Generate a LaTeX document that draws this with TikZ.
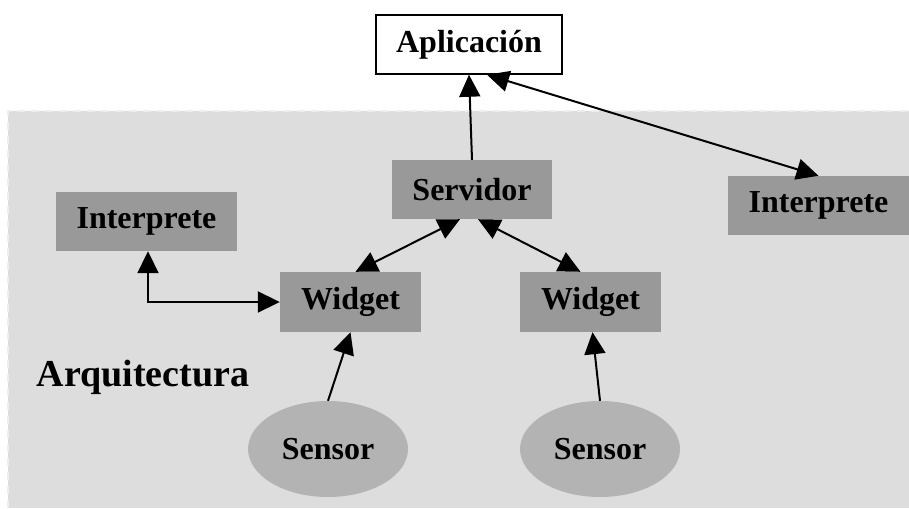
\documentclass[tikz,border=0pt]{standalone}
\usepackage{fontspec}
\setmainfont{Liberation Serif}
\usetikzlibrary{arrows.meta,shapes.geometric}
\definecolor{areabg}{HTML}{DDDDDD}
\definecolor{areaedge}{HTML}{EEEEEE}
\definecolor{boxfill}{HTML}{999999}
\definecolor{sensfill}{HTML}{B3B3B3}
\tikzset{
  lbl/.style={font=\fontsize{32}{38}\selectfont\bfseries, text=black},
  compbox/.style={lbl, rectangle, fill=boxfill, inner sep=0pt},
  appbox/.style={lbl, rectangle, fill=white, draw=black, line width=1.5pt, inner sep=0pt},
  sensbox/.style={lbl, ellipse, fill=sensfill, inner sep=0pt},
  link/.style={line width=2pt, draw=black},
  tip/.style={-{Triangle[length=22pt,width=21pt]}},
  tips/.style={{Triangle[length=22pt,width=21pt]}-{Triangle[length=22pt,width=21pt]}}
}
\begin{document}
\begin{tikzpicture}[x=1pt,y=-1pt]
  \useasboundingbox (0,0) rectangle (909,508);
  % architecture area
  \fill[areabg] (8,111) rectangle (909,508);
  \draw[areaedge, line width=1.5pt, dash pattern=on 8pt off 6pt] (8,508) -- (8,111) -- (909,111);

  % components
  \node[appbox, minimum width=186pt, minimum height=59pt] (app) at (469,44.5) {Aplicación};
  \node[compbox, minimum width=160pt, minimum height=59pt] (serv) at (472,189.5) {Servidor};
  \node[compbox, minimum width=181pt, minimum height=59pt] (intL) at (146.5,221.5) {Interprete};
  \node[compbox, minimum width=181pt, minimum height=59pt] (intR) at (818.5,205.5) {Interprete};
  \node[compbox, minimum width=141pt, minimum height=60pt] (wL) at (350.5,302) {Widget};
  \node[compbox, minimum width=141pt, minimum height=60pt] (wR) at (590.5,302) {Widget};
  \node[sensbox, minimum width=160pt, minimum height=96pt] (sL) at (328,449) {Sensor};
  \node[sensbox, minimum width=160pt, minimum height=96pt] (sR) at (600,449) {Sensor};
  \node[font=\fontsize{38}{44}\selectfont\bfseries] (arq) at (143,377) {Arquitectura};

  % connectors
  \draw[link, tip] (serv.north) -- (app.south);
  \draw[link, tips] ([xshift=18pt]app.south) -- (intR.north);
  \draw[link, tips] ([xshift=-12pt]serv.south) -- ([xshift=5pt]wL.north);
  \draw[link, tips] ([xshift=6pt]serv.south) -- ([xshift=-10pt]wR.north);
  \draw[link, tips] ([xshift=1.5pt]intL.south) |- (wL.west);
  \draw[link, tip] (sL.north) -- (wL.south);
  \draw[link, tip] (sR.north) -- ([xshift=2pt]wR.south);
\end{tikzpicture}
\end{document}
